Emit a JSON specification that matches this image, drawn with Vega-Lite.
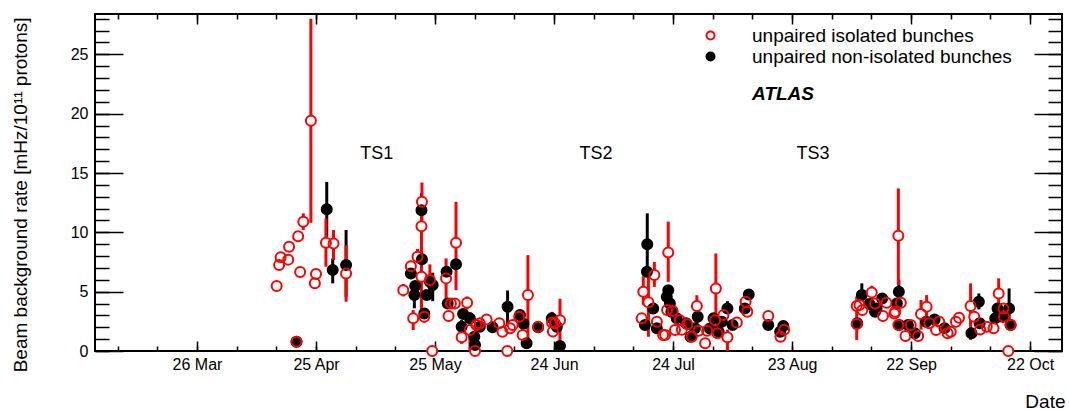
{
  "$schema": "https://vega.github.io/schema/vega-lite/v6.json",
  "width": 967,
  "height": 337,
  "autosize": "none",
  "padding": {"left": 95, "top": 14, "right": 7, "bottom": 60},
  "background": "white",
  "config": {
    "font": "Liberation Sans",
    "view": {"stroke": "black", "strokeWidth": 2},
    "axis": {
      "grid": false,
      "domain": false,
      "labelFont": "Liberation Sans",
      "labelColor": "black",
      "tickColor": "black",
      "tickWidth": 1.5,
      "titleColor": "black",
      "titleFont": "Liberation Sans",
      "titleFontWeight": "normal"
    },
    "text": {"font": "Liberation Sans", "color": "black"}
  },
  "data": {
    "values": [
      {"d": "2012-04-15T02:00", "s": "isolated", "v": 5.47},
      {"d": "2012-04-15T17:00", "s": "isolated", "v": 7.24},
      {"d": "2012-04-16T02:00", "s": "isolated", "v": 7.9},
      {"d": "2012-04-18T00:00", "s": "isolated", "v": 7.7, "lo": 7.35, "hi": 8.05},
      {"d": "2012-04-18T05:00", "s": "isolated", "v": 8.78},
      {"d": "2012-04-20T12:00", "s": "isolated", "v": 9.68},
      {"d": "2012-04-21T00:00", "s": "isolated", "v": 6.65},
      {"d": "2012-04-21T19:00", "s": "isolated", "v": 10.9, "lo": 10.2, "hi": 11.6},
      {"d": "2012-04-20T02:00", "s": "isolated", "v": 0.78},
      {"d": "2012-04-23T17:00", "s": "isolated", "v": 19.4, "lo": 10.8, "hi": 28.0},
      {"d": "2012-04-24T17:00", "s": "isolated", "v": 5.7},
      {"d": "2012-04-25T00:00", "s": "isolated", "v": 6.48},
      {"d": "2012-04-27T12:00", "s": "isolated", "v": 9.12, "lo": 7.1, "hi": 11.17},
      {"d": "2012-04-29T10:00", "s": "isolated", "v": 9.06, "lo": 7.66, "hi": 10.2},
      {"d": "2012-05-02T14:00", "s": "isolated", "v": 6.54, "lo": 4.15, "hi": 8.92},
      {"d": "2012-05-17T00:00", "s": "isolated", "v": 5.13, "lo": 4.6, "hi": 5.65},
      {"d": "2012-05-18T22:00", "s": "isolated", "v": 7.15, "lo": 6.7, "hi": 7.6},
      {"d": "2012-05-19T12:00", "s": "isolated", "v": 2.75, "lo": 1.77, "hi": 3.45},
      {"d": "2012-05-20T14:00", "s": "isolated", "v": 7.94, "lo": 7.4, "hi": 8.6},
      {"d": "2012-05-21T17:00", "s": "isolated", "v": 12.57, "lo": 11.0, "hi": 14.2},
      {"d": "2012-05-21T14:00", "s": "isolated", "v": 10.52, "lo": 7.0, "hi": 13.0},
      {"d": "2012-05-21T14:00", "s": "isolated", "v": 6.25, "lo": 3.5, "hi": 7.5},
      {"d": "2012-05-22T07:00", "s": "isolated", "v": 2.89, "lo": 2.4, "hi": 3.4},
      {"d": "2012-05-23T17:00", "s": "isolated", "v": 5.98, "lo": 4.5, "hi": 7.3},
      {"d": "2012-05-24T07:00", "s": "isolated", "v": 0.0},
      {"d": "2012-05-27T19:00", "s": "isolated", "v": 6.12, "lo": 4.3, "hi": 7.8},
      {"d": "2012-05-28T10:00", "s": "isolated", "v": 2.95},
      {"d": "2012-05-29T00:00", "s": "isolated", "v": 4.0},
      {"d": "2012-05-30T00:00", "s": "isolated", "v": 4.0},
      {"d": "2012-05-30T07:00", "s": "isolated", "v": 9.12, "lo": 5.13, "hi": 12.57},
      {"d": "2012-05-31T17:00", "s": "isolated", "v": 1.15, "lo": 0.6, "hi": 1.7},
      {"d": "2012-06-02T02:00", "s": "isolated", "v": 4.07, "lo": 3.5, "hi": 4.6},
      {"d": "2012-06-02T19:00", "s": "isolated", "v": 1.77, "lo": 0.0, "hi": 3.3},
      {"d": "2012-06-04T02:00", "s": "isolated", "v": 0.0},
      {"d": "2012-06-04T10:00", "s": "isolated", "v": 2.19},
      {"d": "2012-06-05T07:00", "s": "isolated", "v": 2.33},
      {"d": "2012-06-07T00:00", "s": "isolated", "v": 2.66},
      {"d": "2012-06-10T05:00", "s": "isolated", "v": 2.33},
      {"d": "2012-06-11T00:00", "s": "isolated", "v": 1.63},
      {"d": "2012-06-12T05:00", "s": "isolated", "v": 0.0},
      {"d": "2012-06-12T22:00", "s": "isolated", "v": 1.91},
      {"d": "2012-06-13T14:00", "s": "isolated", "v": 2.2},
      {"d": "2012-06-15T05:00", "s": "isolated", "v": 2.89},
      {"d": "2012-06-16T02:00", "s": "isolated", "v": 1.35, "lo": 0.8, "hi": 2.0},
      {"d": "2012-06-17T10:00", "s": "isolated", "v": 4.71, "lo": 0.36, "hi": 8.08},
      {"d": "2012-06-20T00:00", "s": "isolated", "v": 2.05},
      {"d": "2012-06-23T12:00", "s": "isolated", "v": 2.4, "lo": 1.6, "hi": 3.3},
      {"d": "2012-06-23T17:00", "s": "isolated", "v": 1.65},
      {"d": "2012-06-24T05:00", "s": "isolated", "v": 2.33},
      {"d": "2012-06-25T12:00", "s": "isolated", "v": 2.6, "lo": 0.1, "hi": 4.4},
      {"d": "2012-07-16T02:00", "s": "isolated", "v": 2.75},
      {"d": "2012-07-16T12:00", "s": "isolated", "v": 4.99, "lo": 3.9, "hi": 6.3},
      {"d": "2012-07-17T19:00", "s": "isolated", "v": 4.1, "lo": 1.2, "hi": 6.4},
      {"d": "2012-07-19T07:00", "s": "isolated", "v": 6.4, "lo": 5.4, "hi": 7.5},
      {"d": "2012-07-19T22:00", "s": "isolated", "v": 2.47},
      {"d": "2012-07-21T12:00", "s": "isolated", "v": 1.35},
      {"d": "2012-07-22T00:00", "s": "isolated", "v": 1.35},
      {"d": "2012-07-22T12:00", "s": "isolated", "v": 3.45},
      {"d": "2012-07-22T19:00", "s": "isolated", "v": 8.31, "lo": 5.83, "hi": 10.9},
      {"d": "2012-07-23T22:00", "s": "isolated", "v": 3.37},
      {"d": "2012-07-24T12:00", "s": "isolated", "v": 1.77},
      {"d": "2012-07-25T17:00", "s": "isolated", "v": 2.6},
      {"d": "2012-07-26T05:00", "s": "isolated", "v": 1.8},
      {"d": "2012-07-27T14:00", "s": "isolated", "v": 2.25},
      {"d": "2012-07-28T17:00", "s": "isolated", "v": 1.2},
      {"d": "2012-07-30T00:00", "s": "isolated", "v": 3.79, "lo": 1.8, "hi": 4.7},
      {"d": "2012-07-30T10:00", "s": "isolated", "v": 1.7},
      {"d": "2012-08-01T02:00", "s": "isolated", "v": 0.65},
      {"d": "2012-08-01T14:00", "s": "isolated", "v": 1.7},
      {"d": "2012-08-03T14:00", "s": "isolated", "v": 2.6},
      {"d": "2012-08-03T19:00", "s": "isolated", "v": 5.27, "lo": 2.05, "hi": 8.22},
      {"d": "2012-08-04T05:00", "s": "isolated", "v": 1.5},
      {"d": "2012-08-05T17:00", "s": "isolated", "v": 3.03},
      {"d": "2012-08-06T17:00", "s": "isolated", "v": 1.15, "lo": 0.0, "hi": 1.8},
      {"d": "2012-08-09T02:00", "s": "isolated", "v": 2.4},
      {"d": "2012-08-11T07:00", "s": "isolated", "v": 4.15},
      {"d": "2012-08-11T17:00", "s": "isolated", "v": 3.31},
      {"d": "2012-08-17T00:00", "s": "isolated", "v": 2.95},
      {"d": "2012-08-20T02:00", "s": "isolated", "v": 1.2},
      {"d": "2012-08-21T00:00", "s": "isolated", "v": 1.8},
      {"d": "2012-09-08T07:00", "s": "isolated", "v": 2.27, "lo": 0.93, "hi": 4.6},
      {"d": "2012-09-08T07:00", "s": "isolated", "v": 3.79},
      {"d": "2012-09-09T00:00", "s": "isolated", "v": 3.87},
      {"d": "2012-09-09T17:00", "s": "isolated", "v": 3.45},
      {"d": "2012-09-12T02:00", "s": "isolated", "v": 4.94, "lo": 4.4, "hi": 5.5},
      {"d": "2012-09-12T22:00", "s": "isolated", "v": 4.0},
      {"d": "2012-09-14T22:00", "s": "isolated", "v": 2.95, "lo": 2.6, "hi": 3.3},
      {"d": "2012-09-15T19:00", "s": "isolated", "v": 4.07},
      {"d": "2012-09-17T19:00", "s": "isolated", "v": 3.17},
      {"d": "2012-09-18T00:00", "s": "isolated", "v": 3.31},
      {"d": "2012-09-18T19:00", "s": "isolated", "v": 9.71, "lo": 5.56, "hi": 13.7},
      {"d": "2012-09-19T10:00", "s": "isolated", "v": 4.07},
      {"d": "2012-09-18T19:00", "s": "isolated", "v": 2.19},
      {"d": "2012-09-20T14:00", "s": "isolated", "v": 1.26},
      {"d": "2012-09-21T22:00", "s": "isolated", "v": 2.2},
      {"d": "2012-09-23T19:00", "s": "isolated", "v": 1.26},
      {"d": "2012-09-24T12:00", "s": "isolated", "v": 3.11, "lo": 1.8, "hi": 4.3},
      {"d": "2012-09-25T22:00", "s": "isolated", "v": 3.73, "lo": 2.33, "hi": 4.71},
      {"d": "2012-09-26T14:00", "s": "isolated", "v": 2.33},
      {"d": "2012-09-28T07:00", "s": "isolated", "v": 1.77},
      {"d": "2012-09-29T02:00", "s": "isolated", "v": 2.47},
      {"d": "2012-10-01T05:00", "s": "isolated", "v": 1.49},
      {"d": "2012-10-02T00:00", "s": "isolated", "v": 1.63},
      {"d": "2012-10-03T07:00", "s": "isolated", "v": 2.47},
      {"d": "2012-10-04T02:00", "s": "isolated", "v": 2.81},
      {"d": "2012-10-07T00:00", "s": "isolated", "v": 3.79, "lo": 0.93, "hi": 5.7},
      {"d": "2012-10-07T22:00", "s": "isolated", "v": 2.89},
      {"d": "2012-10-09T10:00", "s": "isolated", "v": 1.82},
      {"d": "2012-10-11T02:00", "s": "isolated", "v": 2.05},
      {"d": "2012-10-12T19:00", "s": "isolated", "v": 1.91},
      {"d": "2012-10-14T02:00", "s": "isolated", "v": 4.85, "lo": 3.3, "hi": 6.12},
      {"d": "2012-10-15T07:00", "s": "isolated", "v": 3.59},
      {"d": "2012-10-15T10:00", "s": "isolated", "v": 2.89},
      {"d": "2012-10-16T12:00", "s": "isolated", "v": 0.0},
      {"d": "2012-10-17T02:00", "s": "isolated", "v": 2.19},

      {"d": "2012-04-20T02:00", "s": "non-isolated", "v": 0.78},
      {"d": "2012-04-27T17:00", "s": "non-isolated", "v": 11.95, "lo": 9.62, "hi": 14.25},
      {"d": "2012-04-29T05:00", "s": "non-isolated", "v": 6.82, "lo": 5.7, "hi": 7.8},
      {"d": "2012-05-02T14:00", "s": "non-isolated", "v": 7.24, "lo": 4.57, "hi": 10.2},
      {"d": "2012-05-18T22:00", "s": "non-isolated", "v": 6.54},
      {"d": "2012-05-20T00:00", "s": "non-isolated", "v": 5.47},
      {"d": "2012-05-19T19:00", "s": "non-isolated", "v": 4.71, "lo": 3.6, "hi": 5.5},
      {"d": "2012-05-21T14:00", "s": "non-isolated", "v": 11.87, "lo": 10.5, "hi": 13.3},
      {"d": "2012-05-21T17:00", "s": "non-isolated", "v": 7.74},
      {"d": "2012-05-22T07:00", "s": "non-isolated", "v": 3.17},
      {"d": "2012-05-22T22:00", "s": "non-isolated", "v": 4.71},
      {"d": "2012-05-23T17:00", "s": "non-isolated", "v": 5.83},
      {"d": "2012-05-24T10:00", "s": "non-isolated", "v": 5.56, "lo": 4.2, "hi": 6.6},
      {"d": "2012-05-27T22:00", "s": "non-isolated", "v": 6.68},
      {"d": "2012-05-28T05:00", "s": "non-isolated", "v": 4.0},
      {"d": "2012-05-30T07:00", "s": "non-isolated", "v": 7.32},
      {"d": "2012-05-31T17:00", "s": "non-isolated", "v": 2.05, "lo": 1.5, "hi": 2.6},
      {"d": "2012-06-01T02:00", "s": "non-isolated", "v": 3.11},
      {"d": "2012-06-02T19:00", "s": "non-isolated", "v": 2.75},
      {"d": "2012-06-03T22:00", "s": "non-isolated", "v": 1.2},
      {"d": "2012-06-04T02:00", "s": "non-isolated", "v": 0.5},
      {"d": "2012-06-05T07:00", "s": "non-isolated", "v": 2.05},
      {"d": "2012-06-08T12:00", "s": "non-isolated", "v": 2.0},
      {"d": "2012-06-12T07:00", "s": "non-isolated", "v": 3.73, "lo": 2.2, "hi": 5.1},
      {"d": "2012-06-15T10:00", "s": "non-isolated", "v": 3.03},
      {"d": "2012-06-16T07:00", "s": "non-isolated", "v": 2.3},
      {"d": "2012-06-17T02:00", "s": "non-isolated", "v": 0.65},
      {"d": "2012-06-20T00:00", "s": "non-isolated", "v": 2.0},
      {"d": "2012-06-23T10:00", "s": "non-isolated", "v": 2.75},
      {"d": "2012-06-24T17:00", "s": "non-isolated", "v": 2.05},
      {"d": "2012-06-25T12:00", "s": "non-isolated", "v": 0.42},
      {"d": "2012-07-16T22:00", "s": "non-isolated", "v": 2.19},
      {"d": "2012-07-17T10:00", "s": "non-isolated", "v": 6.68},
      {"d": "2012-07-17T12:00", "s": "non-isolated", "v": 9.0, "lo": 6.82, "hi": 11.6},
      {"d": "2012-07-19T00:00", "s": "non-isolated", "v": 3.59},
      {"d": "2012-07-19T22:00", "s": "non-isolated", "v": 1.91},
      {"d": "2012-07-22T10:00", "s": "non-isolated", "v": 4.57},
      {"d": "2012-07-22T19:00", "s": "non-isolated", "v": 5.13},
      {"d": "2012-07-23T05:00", "s": "non-isolated", "v": 4.0},
      {"d": "2012-07-23T14:00", "s": "non-isolated", "v": 3.31},
      {"d": "2012-07-24T22:00", "s": "non-isolated", "v": 2.75},
      {"d": "2012-07-27T07:00", "s": "non-isolated", "v": 2.33},
      {"d": "2012-07-28T10:00", "s": "non-isolated", "v": 1.2},
      {"d": "2012-07-29T12:00", "s": "non-isolated", "v": 1.91},
      {"d": "2012-07-30T05:00", "s": "non-isolated", "v": 2.89},
      {"d": "2012-08-02T07:00", "s": "non-isolated", "v": 1.9},
      {"d": "2012-08-03T05:00", "s": "non-isolated", "v": 2.75},
      {"d": "2012-08-04T12:00", "s": "non-isolated", "v": 1.63},
      {"d": "2012-08-05T07:00", "s": "non-isolated", "v": 2.47},
      {"d": "2012-08-06T17:00", "s": "non-isolated", "v": 3.59, "lo": 2.8, "hi": 4.2},
      {"d": "2012-08-08T00:00", "s": "non-isolated", "v": 2.19},
      {"d": "2012-08-11T02:00", "s": "non-isolated", "v": 3.59},
      {"d": "2012-08-12T02:00", "s": "non-isolated", "v": 4.77},
      {"d": "2012-08-17T00:00", "s": "non-isolated", "v": 2.19},
      {"d": "2012-08-20T00:00", "s": "non-isolated", "v": 1.63},
      {"d": "2012-08-20T19:00", "s": "non-isolated", "v": 2.1},
      {"d": "2012-09-08T10:00", "s": "non-isolated", "v": 2.33},
      {"d": "2012-09-09T14:00", "s": "non-isolated", "v": 4.71, "lo": 4.0, "hi": 5.7},
      {"d": "2012-09-11T12:00", "s": "non-isolated", "v": 3.96},
      {"d": "2012-09-12T22:00", "s": "non-isolated", "v": 3.31},
      {"d": "2012-09-13T07:00", "s": "non-isolated", "v": 3.59},
      {"d": "2012-09-14T17:00", "s": "non-isolated", "v": 4.43},
      {"d": "2012-09-18T10:00", "s": "non-isolated", "v": 4.0},
      {"d": "2012-09-18T22:00", "s": "non-isolated", "v": 4.99, "lo": 4.5, "hi": 6.0},
      {"d": "2012-09-19T00:00", "s": "non-isolated", "v": 2.19},
      {"d": "2012-09-21T05:00", "s": "non-isolated", "v": 2.19},
      {"d": "2012-09-22T22:00", "s": "non-isolated", "v": 1.49},
      {"d": "2012-09-25T19:00", "s": "non-isolated", "v": 2.47},
      {"d": "2012-09-27T22:00", "s": "non-isolated", "v": 2.66},
      {"d": "2012-09-30T10:00", "s": "non-isolated", "v": 1.91},
      {"d": "2012-10-07T05:00", "s": "non-isolated", "v": 1.49},
      {"d": "2012-10-09T02:00", "s": "non-isolated", "v": 4.15, "lo": 3.5, "hi": 4.85},
      {"d": "2012-10-09T07:00", "s": "non-isolated", "v": 2.33},
      {"d": "2012-10-13T05:00", "s": "non-isolated", "v": 2.75},
      {"d": "2012-10-13T19:00", "s": "non-isolated", "v": 3.59},
      {"d": "2012-10-15T02:00", "s": "non-isolated", "v": 2.89},
      {"d": "2012-10-16T17:00", "s": "non-isolated", "v": 3.59, "lo": 2.3, "hi": 5.27},
      {"d": "2012-10-17T02:00", "s": "non-isolated", "v": 2.19}
    ]
  },
  "layer": [
    {
      "transform": [{"filter": "isValid(datum.lo) && datum.s == 'non-isolated'"}],
      "mark": {"type": "rule", "strokeWidth": 3, "color": "#000000"},
      "encoding": {
        "x": {
          "field": "d", "type": "temporal",
          "scale": {"domain": [{"year": 2012, "month": 2, "date": 29, "hours": 7}, {"year": 2012, "month": 10, "date": 30, "hours": 1}]},
          "axis": {
            "orient": "bottom",
            "values": [
              {"year": 2012, "month": 3, "date": 26}, {"year": 2012, "month": 4, "date": 25},
              {"year": 2012, "month": 5, "date": 25}, {"year": 2012, "month": 6, "date": 24},
              {"year": 2012, "month": 7, "date": 24}, {"year": 2012, "month": 8, "date": 23},
              {"year": 2012, "month": 9, "date": 22}, {"year": 2012, "month": 10, "date": 22}
            ],
            "format": "%d %b",
            "ticks": false,
            "labelFontSize": 16,
            "labelPadding": 5,
            "labelFlush": false,
            "labelOverlap": false,
            "title": "Date",
            "titleFontSize": 19,
            "titleAnchor": "end",
            "titleAlign": "right",
            "titleBaseline": "alphabetic",
            "titleX": 970,
            "titleY": 56
          }
        },
        "y": {
          "field": "lo", "type": "quantitative",
          "scale": {"domain": [0, 28.4], "nice": false},
          "axis": {
            "orient": "left",
            "values": [0, 5, 10, 15, 20, 25],
            "ticks": false,
            "labelFontSize": 16,
            "labelPadding": 7,
            "title": "Beam background rate [mHz/10¹¹ protons]",
            "titleFontSize": 19,
            "titleAnchor": "end",
            "titleAlign": "right",
            "titleAngle": 270,
            "titleBaseline": "alphabetic",
            "titleX": -69,
            "titleY": 3
          }
        },
        "y2": {"field": "hi"}
      }
    },
    {
      "transform": [{"filter": "isValid(datum.lo) && datum.s == 'isolated'"}],
      "mark": {"type": "rule", "strokeWidth": 3, "color": "#ff0000"},
      "encoding": {
        "x": {
          "field": "d", "type": "temporal",
          "scale": {"domain": [{"year": 2012, "month": 2, "date": 29, "hours": 7}, {"year": 2012, "month": 10, "date": 30, "hours": 1}]},
          "axis": null
        },
        "y": {
          "field": "lo", "type": "quantitative",
          "scale": {"domain": [0, 28.4], "nice": false},
          "axis": null
        },
        "y2": {"field": "hi"}
      }
    },
    {
      "transform": [{"filter": "datum.s == 'isolated'"}],
      "mark": {"type": "point", "shape": "circle", "filled": true, "color": "white", "opacity": 1, "size": 100},
      "encoding": {
        "x": {
          "field": "d", "type": "temporal",
          "scale": {"domain": [{"year": 2012, "month": 2, "date": 29, "hours": 7}, {"year": 2012, "month": 10, "date": 30, "hours": 1}]},
          "axis": {
            "orient": "bottom",
            "values": [
              {"year": 2012, "month": 3, "date": 26}, {"year": 2012, "month": 4, "date": 25},
              {"year": 2012, "month": 5, "date": 25}, {"year": 2012, "month": 6, "date": 24},
              {"year": 2012, "month": 7, "date": 24}, {"year": 2012, "month": 8, "date": 23},
              {"year": 2012, "month": 9, "date": 22}, {"year": 2012, "month": 10, "date": 22}
            ],
            "labels": false, "tickSize": -10, "title": null
          }
        },
        "y": {
          "field": "v", "type": "quantitative",
          "scale": {"domain": [0, 28.4], "nice": false},
          "axis": {"orient": "left", "values": [0, 5, 10, 15, 20, 25], "labels": false, "tickSize": -28, "title": null}
        }
      }
    },
    {
      "mark": {"type": "point", "shape": "circle", "filled": true, "opacity": 1, "size": 100, "strokeWidth": 2},
      "encoding": {
        "x": {
          "field": "d", "type": "temporal",
          "scale": {"domain": [{"year": 2012, "month": 2, "date": 29, "hours": 7}, {"year": 2012, "month": 10, "date": 30, "hours": 1}]},
          "axis": {
            "orient": "bottom",
            "values": [
              {"year": 2012, "month": 3, "date": 6}, {"year": 2012, "month": 3, "date": 16}, {"year": 2012, "month": 3, "date": 26},
              {"year": 2012, "month": 4, "date": 5}, {"year": 2012, "month": 4, "date": 15}, {"year": 2012, "month": 4, "date": 25},
              {"year": 2012, "month": 5, "date": 5}, {"year": 2012, "month": 5, "date": 15}, {"year": 2012, "month": 5, "date": 25},
              {"year": 2012, "month": 6, "date": 4}, {"year": 2012, "month": 6, "date": 14}, {"year": 2012, "month": 6, "date": 24},
              {"year": 2012, "month": 7, "date": 4}, {"year": 2012, "month": 7, "date": 14}, {"year": 2012, "month": 7, "date": 24},
              {"year": 2012, "month": 8, "date": 3}, {"year": 2012, "month": 8, "date": 13}, {"year": 2012, "month": 8, "date": 23},
              {"year": 2012, "month": 9, "date": 2}, {"year": 2012, "month": 9, "date": 12}, {"year": 2012, "month": 9, "date": 22},
              {"year": 2012, "month": 10, "date": 2}, {"year": 2012, "month": 10, "date": 12}, {"year": 2012, "month": 10, "date": 22}
            ],
            "labels": false, "tickSize": -5, "title": null
          }
        },
        "y": {
          "field": "v", "type": "quantitative",
          "scale": {"domain": [0, 28.4], "nice": false},
          "axis": {
            "orient": "left",
            "values": [0, 1, 2, 3, 4, 5, 6, 7, 8, 9, 10, 11, 12, 13, 14, 15, 16, 17, 18, 19, 20, 21, 22, 23, 24, 25, 26, 27, 28],
            "labels": false, "tickSize": -14, "title": null
          }
        },
        "fill": {
          "field": "s", "type": "nominal",
          "scale": {"domain": ["isolated", "non-isolated"], "range": ["transparent", "#000000"]},
          "legend": {
            "orient": "none", "legendX": 606, "legendY": 12, "title": null, "padding": 0,
            "labelFontSize": 19, "labelFont": "Liberation Sans", "labelColor": "black", "labelOffset": 32, "labelLimit": 400,
            "symbolType": "circle", "symbolSize": 64, "symbolStrokeWidth": 2, "rowPadding": 1,
            "labelExpr": "'unpaired ' + datum.label + ' bunches'"
          }
        },
        "stroke": {
          "field": "s", "type": "nominal",
          "scale": {"domain": ["isolated", "non-isolated"], "range": ["#ff0000", "#000000"]},
          "legend": {
            "orient": "none", "legendX": 606, "legendY": 12, "title": null, "padding": 0,
            "labelFontSize": 19, "labelFont": "Liberation Sans", "labelColor": "black", "labelOffset": 32, "labelLimit": 400,
            "symbolType": "circle", "symbolSize": 64, "symbolStrokeWidth": 2, "rowPadding": 1,
            "labelExpr": "'unpaired ' + datum.label + ' bunches'"
          }
        },
        "order": {"field": "s", "type": "nominal", "sort": "descending"}
      }
    },
    {
      "data": {
        "values": [
          {"d": "2012-05-10T07:00", "v": 16.6, "t": "TS1"},
          {"d": "2012-07-04T14:00", "v": 16.6, "t": "TS2"},
          {"d": "2012-08-28T07:00", "v": 16.6, "t": "TS3"}
        ]
      },
      "mark": {"type": "text", "fontSize": 18, "align": "center", "baseline": "middle"},
      "encoding": {
        "x": {
          "field": "d", "type": "temporal",
          "scale": {"domain": [{"year": 2012, "month": 2, "date": 29, "hours": 7}, {"year": 2012, "month": 10, "date": 30, "hours": 1}]},
          "axis": {
            "orient": "top",
            "values": [
              {"year": 2012, "month": 3, "date": 26}, {"year": 2012, "month": 4, "date": 25},
              {"year": 2012, "month": 5, "date": 25}, {"year": 2012, "month": 6, "date": 24},
              {"year": 2012, "month": 7, "date": 24}, {"year": 2012, "month": 8, "date": 23},
              {"year": 2012, "month": 9, "date": 22}, {"year": 2012, "month": 10, "date": 22}
            ],
            "labels": false, "tickSize": -10, "title": null
          }
        },
        "y": {
          "field": "v", "type": "quantitative",
          "scale": {"domain": [0, 28.4], "nice": false},
          "axis": {"orient": "right", "values": [0, 5, 10, 15, 20, 25], "labels": false, "tickSize": -28, "title": null}
        },
        "text": {"field": "t"}
      }
    },
    {
      "data": {"values": [{"d": "2012-08-12T22:00", "v": 21.7, "t": "ATLAS"}]},
      "mark": {"type": "text", "fontSize": 19, "fontStyle": "italic", "fontWeight": "bold", "align": "left", "baseline": "middle"},
      "encoding": {
        "x": {
          "field": "d", "type": "temporal",
          "scale": {"domain": [{"year": 2012, "month": 2, "date": 29, "hours": 7}, {"year": 2012, "month": 10, "date": 30, "hours": 1}]},
          "axis": {
            "orient": "top",
            "values": [
              {"year": 2012, "month": 3, "date": 6}, {"year": 2012, "month": 3, "date": 16}, {"year": 2012, "month": 3, "date": 26},
              {"year": 2012, "month": 4, "date": 5}, {"year": 2012, "month": 4, "date": 15}, {"year": 2012, "month": 4, "date": 25},
              {"year": 2012, "month": 5, "date": 5}, {"year": 2012, "month": 5, "date": 15}, {"year": 2012, "month": 5, "date": 25},
              {"year": 2012, "month": 6, "date": 4}, {"year": 2012, "month": 6, "date": 14}, {"year": 2012, "month": 6, "date": 24},
              {"year": 2012, "month": 7, "date": 4}, {"year": 2012, "month": 7, "date": 14}, {"year": 2012, "month": 7, "date": 24},
              {"year": 2012, "month": 8, "date": 3}, {"year": 2012, "month": 8, "date": 13}, {"year": 2012, "month": 8, "date": 23},
              {"year": 2012, "month": 9, "date": 2}, {"year": 2012, "month": 9, "date": 12}, {"year": 2012, "month": 9, "date": 22},
              {"year": 2012, "month": 10, "date": 2}, {"year": 2012, "month": 10, "date": 12}, {"year": 2012, "month": 10, "date": 22}
            ],
            "labels": false, "tickSize": -5, "title": null
          }
        },
        "y": {
          "field": "v", "type": "quantitative",
          "scale": {"domain": [0, 28.4], "nice": false},
          "axis": {
            "orient": "right",
            "values": [0, 1, 2, 3, 4, 5, 6, 7, 8, 9, 10, 11, 12, 13, 14, 15, 16, 17, 18, 19, 20, 21, 22, 23, 24, 25, 26, 27, 28],
            "labels": false, "tickSize": -14, "title": null
          }
        },
        "text": {"field": "t"}
      }
    }
  ],
  "resolve": {"axis": {"x": "independent", "y": "independent"}}
}
